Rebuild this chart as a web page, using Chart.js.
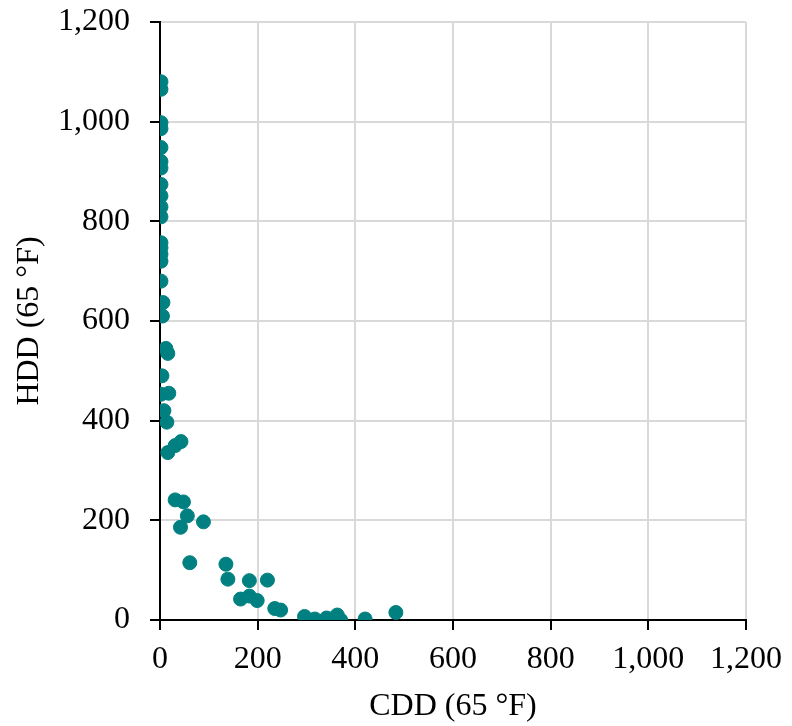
<!DOCTYPE html>
<html>
<head>
<meta charset="utf-8">
<script src="https://cdn.jsdelivr.net/npm/chart.js@4/dist/chart.umd.min.js"></script>
<style>
  html, body { margin: 0; padding: 0; background: #fff; }
  #wrap { width: 792px; height: 726px; }
</style>
</head>
<body>
<div id="wrap"><canvas id="chart" width="792" height="726"></canvas></div>
<script>
// cooling degree days (x) and heating degree days (y)
const cdd = [
    2, 2, 2, 2, 2, 2, 2, 2, 2, 2,
    2, 2, 2, 2, 2, 2, 6, 5,
    12, 16, 4, 2, 18, 8, 14, 16, 31, 43,
    31, 48, 56, 42, 89, 61,
    135, 139, 183, 220, 165, 183, 199, 235, 247,
    296, 317, 341, 350, 363, 370, 420, 483
];
const hdd = [
    1080, 1065, 998, 986, 948, 920, 907, 874, 851, 829,
    809, 757, 747, 734, 720, 680, 637, 610,
    545, 535, 490, 453, 455, 420, 397, 336, 350, 358,
    241, 237, 209, 186, 197, 115,
    112, 82, 79, 80, 42, 48, 39, 23, 20,
    7, 2, 4, 2, 10, 0, 2, 15
];
const xTitle = "CDD (65 °F)";
const yTitle = "HDD (65 °F)";
const axisMin = 0, axisMax = 1200, axisStep = 200;

let points = cdd.map((x, i) => ({ x: x, y: hdd[i] }));

const serif = "'Liberation Serif', 'Times New Roman', serif";
const fontSize = 32;

let gridColor = ctx => ctx.tick && ctx.tick.value === 0 ? "rgba(0,0,0,0)" : "#d9d9d9";

let chart = new Chart("chart", {
    type: "scatter",
    data: {
        datasets: [{
            data: points,
            backgroundColor: "#008080",
            borderColor: "#008080",
            pointRadius: 7,
            pointHoverRadius: 7
        }]
    },
    options: {
        responsive: false,
        animation: false,
        layout: { padding: { top: 22, right: 46, left: 10, bottom: 0 } },
        plugins: { legend: { display: false }, tooltip: { enabled: false } },
        scales: {
            x: {
                type: "linear",
                min: axisMin, max: axisMax,
                ticks: { stepSize: axisStep, color: "#000", font: { family: serif, size: fontSize }, padding: 10, maxRotation: 0 },
                grid: { color: gridColor, lineWidth: 2, tickColor: "#000", tickLength: 10 },
                border: { display: true, color: "#000", width: 2 },
                title: { display: true, text: xTitle, color: "#000", font: { family: serif, size: fontSize }, padding: { top: 0, bottom: 0 } },
                afterFit: s => { s.height = 106; }
            },
            y: {
                type: "linear",
                min: axisMin, max: axisMax,
                ticks: { stepSize: axisStep, color: "#000", font: { family: serif, size: fontSize }, padding: 20, callback: v => v.toLocaleString("en-US") },
                grid: { color: gridColor, lineWidth: 2, tickColor: "#000", tickLength: 10 },
                border: { display: true, color: "#000", width: 2 },
                title: { display: true, text: yTitle, color: "#000", font: { family: serif, size: fontSize }, padding: { top: 0, bottom: 4 } },
                afterFit: s => { s.width = 150; s.paddingTop = 0; }
            }
        }
    }
});
</script>
</body>
</html>
